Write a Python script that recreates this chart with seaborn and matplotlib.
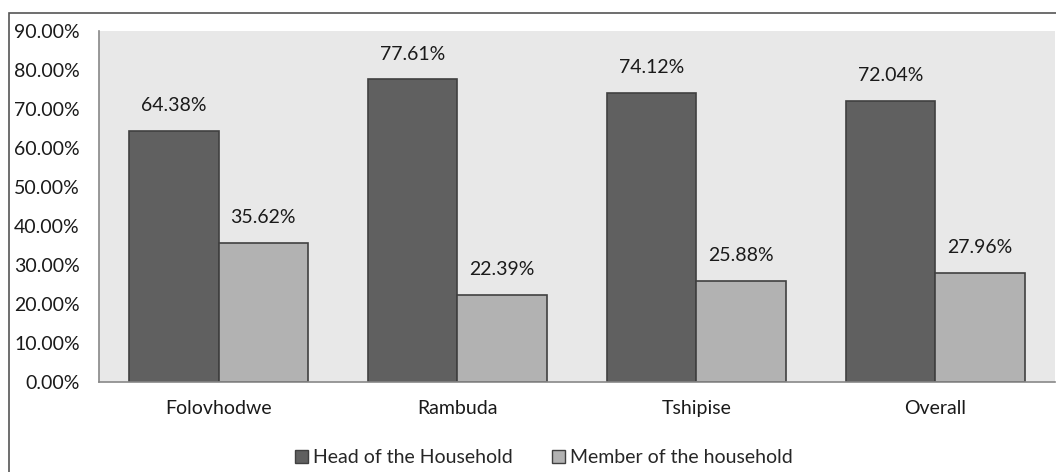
import matplotlib.pyplot as plt
import matplotlib.patches as mpatches
import seaborn as sns
import pandas as pd

# datos del grafico
locations = ['Folovhodwe', 'Rambuda', 'Tshipise', 'Overall']
head = [64.38, 77.61, 74.12, 72.04]
member = [35.62, 22.39, 25.88, 27.96]
series = ['Head of the Household', 'Member of the household']
yticks = [0, 10, 20, 30, 40, 50, 60, 70, 80, 90]

df = pd.DataFrame({
    'location': locations * 2,
    'value': head + member,
    'who': [series[0]] * 4 + [series[1]] * 4,
})

sns.set_style('white')
plt.rcParams['font.family'] = ['Lato', 'DejaVu Sans']
fs = 14

fig = plt.figure(figsize=(10.56, 4.72), dpi=100)
ax = fig.add_axes([0.0938, 0.1907, 0.905, 0.7436])
colors = ['#606060', '#b2b2b2']
sns.barplot(data=df, x='location', y='value', hue='who', palette=colors,
            width=0.75, edgecolor='#404040', linewidth=1.2, ax=ax, legend=False,
            saturation=1)

ax.set_facecolor('#e8e8e8')
ax.set_ylim(0, 90)
ax.set_yticks(yticks)
ax.set_yticklabels([f'{t:.2f}%' for t in yticks], fontsize=fs, color='#1a1a1a')
ax.tick_params(axis='x', labelsize=fs, colors='#1a1a1a', length=0, pad=13)
ax.tick_params(axis='y', length=0, pad=14)
ax.set_xlabel('')
ax.set_ylabel('')
for s in ['top', 'right']:
    ax.spines[s].set_visible(False)
ax.spines['left'].set_color('#888888')
ax.spines['bottom'].set_color('#888888')
ax.spines['left'].set_linewidth(1.2)
ax.spines['bottom'].set_linewidth(1.2)

for cont in ax.containers:
    ax.bar_label(cont, labels=[f'{v:.2f}%' for v in cont.datavalues],
                 padding=12, fontsize=fs, color='#1a1a1a')

handles = [mpatches.Patch(facecolor=c, edgecolor='#404040', label=l)
           for c, l in zip(colors, series)]
fig.legend(handles=handles, loc='center', bbox_to_anchor=(0.515, 0.03),
           ncol=2, frameon=False, fontsize=fs, handlelength=0.7,
           handleheight=0.7, handletextpad=0.25, columnspacing=2.0)

# marco exterior (se sale por abajo y por la derecha)
fig.patches.append(mpatches.Rectangle((0.0085, -0.05), 1.1, 1.022,
                                      transform=fig.transFigure, fill=False,
                                      edgecolor='#555555', linewidth=1.2))

fig.savefig('out.png', dpi=100)
